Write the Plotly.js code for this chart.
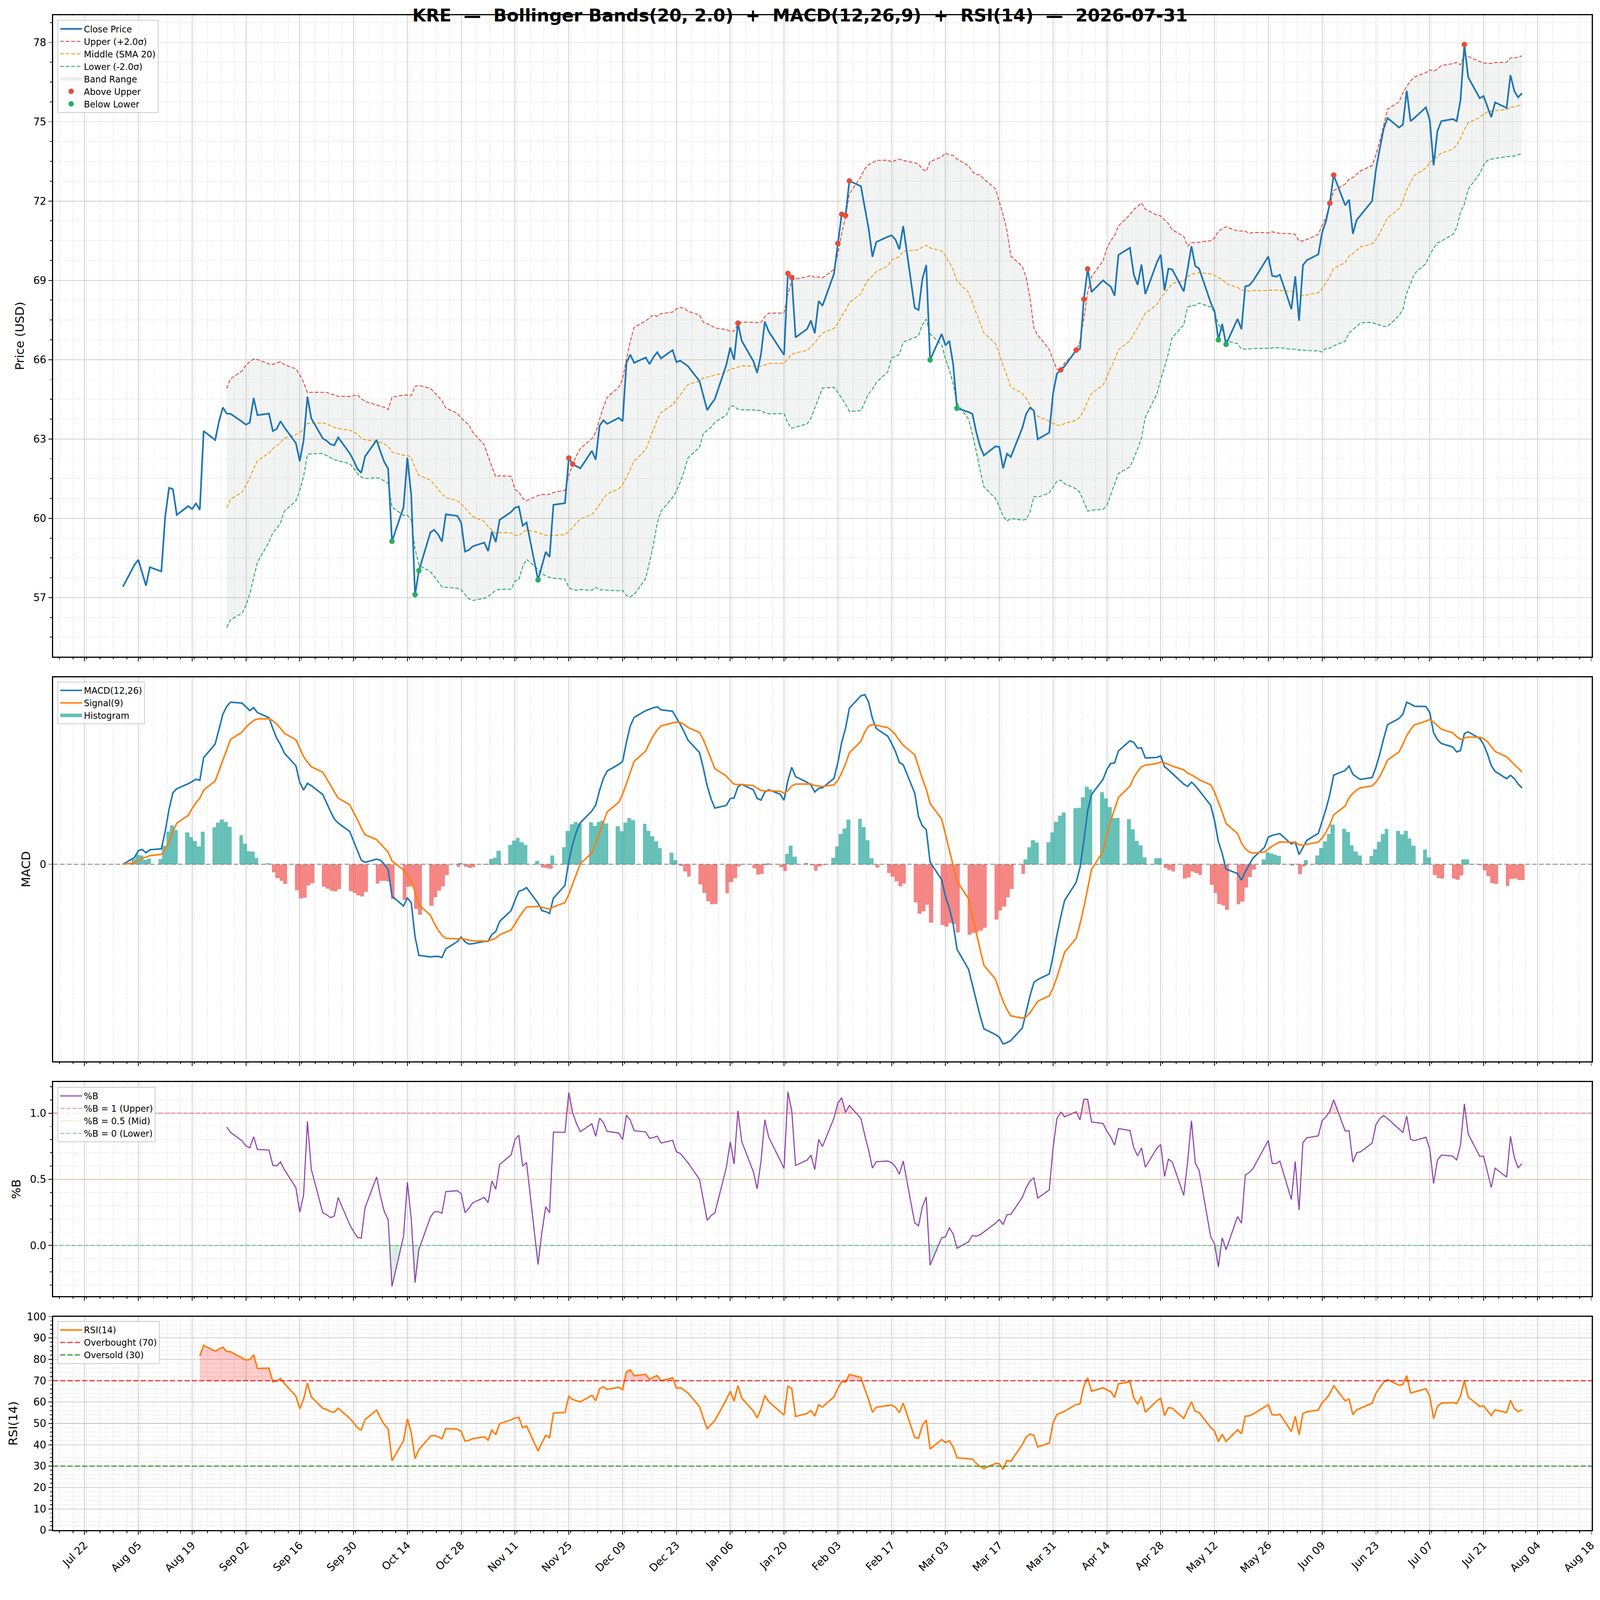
<!DOCTYPE html>
<html>
<head>
<meta charset="utf-8">
<script src="https://cdn.plot.ly/plotly-3.0.1.min.js"></script>
<style>html,body{margin:0;padding:0;background:#fff;overflow:hidden}</style>
</head>
<body>
<div id="wrap" style="position:absolute;left:0;top:0;width:4378px;height:4322px;transform-origin:0 0">
<div id="chart" style="width:4378px;height:4322px"></div>
</div>
<script>
// KRE daily closes, business days from 2025-08-01 to 2026-07-31
const START = '2025-08-01';
const closeAug = [57.41, 58.24, 58.43, 57.94, 57.45, 58.15, 57.99, 60.08, 61.15, 61.10, 60.13, 60.46, 60.35, 60.56, 60.32, 63.30, 62.96, 63.67, 64.19, 63.96, 63.95];
const closeSep = [63.65, 63.54, 63.62, 64.55, 63.90, 63.96, 63.30, 63.38, 63.67, 63.44, 62.84, 62.16, 62.94, 64.60, 63.78, 63.02, 62.93, 62.80, 62.76, 63.06, 62.46, 62.19];
const closeOct = [61.87, 61.72, 62.34, 62.96, 62.52, 62.13, 61.87, 59.13, 60.42, 62.29, 60.89, 57.11, 58.02, 59.47, 59.56, 59.39, 59.12, 60.15, 60.09, 59.84, 58.74, 58.80, 58.94];
const closeNov = [59.08, 58.76, 59.50, 59.10, 59.94, 60.24, 60.40, 60.44, 59.72, 59.84, 57.67, 58.20, 58.73, 58.54, 60.51, 60.57, 62.28, 62.05, 61.97, 61.89];
const closeDec = [62.55, 62.22, 63.50, 63.71, 63.57, 63.80, 63.67, 65.88, 66.19, 65.88, 66.08, 65.83, 66.09, 66.28, 66.05, 66.36, 65.91, 65.96, 65.86, 65.75, 65.19, 64.64, 64.09];
const closeJan = [64.31, 64.51, 65.81, 66.46, 65.99, 67.38, 66.71, 65.95, 65.50, 66.20, 67.44, 67.07, 66.40, 66.18, 69.26, 69.11, 66.84, 67.16, 67.48, 67.00, 68.22, 68.04];
const closeFeb = [69.25, 70.40, 71.50, 71.45, 72.76, 72.56, 71.75, 70.96, 69.89, 70.45, 70.65, 70.70, 70.54, 70.17, 71.05, 67.96, 67.88, 69.06, 69.58, 65.99];
const closeMar = [66.97, 66.54, 66.71, 65.83, 64.16, 64.02, 63.95, 63.27, 62.72, 62.38, 62.72, 62.70, 61.89, 62.44, 62.32, 63.42, 63.95, 64.18, 64.07, 62.99, 63.24, 64.73];
const closeApr = [65.47, 65.61, 65.75, 66.36, 66.40, 68.28, 69.43, 68.56, 69.00, 68.87, 68.76, 68.42, 69.96, 70.23, 69.21, 68.83, 69.60, 68.48, 69.67, 69.97, 68.62, 69.44];
const closeMay = [69.41, 68.58, 69.44, 70.29, 69.54, 69.44, 68.16, 67.83, 66.75, 67.35, 66.58, 67.54, 67.15, 68.77, 68.81, 68.97, 69.67, 69.90, 69.17, 69.14, 69.21];
const closeJun = [67.91, 69.15, 67.47, 69.57, 69.76, 69.98, 70.81, 71.24, 71.92, 72.98, 71.84, 72.05, 70.76, 71.29, 71.46, 72.00, 73.19, 73.98, 74.73, 75.14, 74.78, 74.89];
const closeJul = [76.17, 75.02, 75.14, 75.54, 75.06, 73.35, 74.65, 75.02, 75.10, 75.02, 75.81, 77.92, 76.68, 75.89, 75.97, 75.57, 75.17, 75.73, 75.52, 76.76, 76.16, 75.92, 76.08];

const close = [].concat(closeAug, closeSep, closeOct, closeNov, closeDec, closeJan,
                        closeFeb, closeMar, closeApr, closeMay, closeJun, closeJul);

const BB_N = 20, BB_K = 2.0, RSI_N = 14, FAST = 12, SLOW = 26, SIG = 9;
const bLevels = [1, 0.5, 0];
const rsiLevels = [70, 30, 50];
const TITLE = 'KRE\u00a0 \u2014\u00a0 Bollinger Bands(20, 2.0)\u00a0 +\u00a0 MACD(12,26,9)\u00a0 +\u00a0 RSI(14)\u00a0 \u2014\u00a0 2026-07-31';

const W = 4378, H = 4322;
const DAY = 864e5;
const n = close.length;

// fit the whole figure into what the browser actually shows
const fit = Math.min(window.innerWidth / W, window.innerHeight / H, 4096 / W);
if (fit < 1) document.getElementById('wrap').style.transform = 'scale(' + fit + ')';

// business-day dates
const dates = [], dms = [];
for (let t = Date.parse(START); dates.length < n; t += DAY) {
  const wd = new Date(t).getUTCDay();
  if (wd !== 0 && wd !== 6) { dates.push(new Date(t).toISOString().slice(0, 10)); dms.push(t); }
}
const toStr = ms => new Date(ms).toISOString().replace('T', ' ').replace('Z', '');

// Bollinger
const upper = [], middle = [], lower = [], pctB = [];
for (let i = 0; i < n; i++) {
  if (i < BB_N - 1) { upper.push(null); middle.push(null); lower.push(null); pctB.push(null); continue; }
  const w = close.slice(i - BB_N + 1, i + 1);
  const m = w.reduce((a, b) => a + b, 0) / BB_N;
  const sd = Math.sqrt(w.reduce((a, b) => a + (b - m) * (b - m), 0) / (BB_N - 1));
  upper.push(m + BB_K * sd); middle.push(m); lower.push(m - BB_K * sd);
  pctB.push((close[i] - (m - BB_K * sd)) / (2 * BB_K * sd));
}

// MACD
function ema(arr, span) {
  const a = 2 / (span + 1), out = [];
  let prev = null;
  arr.forEach((v, i) => { prev = i === 0 ? v : a * v + (1 - a) * prev; out.push(prev); });
  return out;
}
const e12 = ema(close, FAST), e26 = ema(close, SLOW);
const macd = e12.map((v, i) => v - e26[i]);
const signal = ema(macd, SIG);
const hist = macd.map((v, i) => v - signal[i]);

// RSI (Wilder style ewm, adjust=False)
const rsi = new Array(n).fill(null);
{
  const a = 1 / RSI_N;
  let ag = 0, al = 0;
  for (let i = 1; i < n; i++) {
    const d = close[i] - close[i - 1];
    const g = Math.max(d, 0), l = Math.max(-d, 0);
    if (i === 1) { ag = g; al = l; } else { ag = a * g + (1 - a) * ag; al = a * l + (1 - a) * al; }
    if (i >= RSI_N) rsi[i] = al === 0 ? 100 : 100 - 100 / (1 + ag / al);
  }
}

// ranges like matplotlib's 5% margins
function padRange(vals) {
  const v = vals.filter(x => x != null);
  const lo = Math.min(...v), hi = Math.max(...v), p = (hi - lo) * 0.05;
  return [lo - p, hi + p];
}
const xr = padRange(dms).map(toStr);
const yPrice = padRange(close.concat(upper, lower));
const yMacd = padRange(macd.concat(signal, hist));
const yB = padRange(pctB);

// fill helper: region between series and a level (above or below)
function levelFill(ys, level, above, color, xa, ya) {
  const fx = [], fy = [];
  let px = null, py = null;
  for (let i = 0; i < n; i++) {
    const y = ys[i];
    if (y == null) continue;
    const x = dms[i];
    if (py != null) {
      const s0 = above ? py > level : py < level, s1 = above ? y > level : y < level;
      if (s0 !== s1) { const t = (level - py) / (y - py); fx.push(px + t * (x - px)); fy.push(level); }
    }
    fx.push(x); fy.push(above ? Math.max(y, level) : Math.min(y, level));
    px = x; py = y;
  }
  const xs = fx.map(toStr);
  return [
    {x: xs, y: xs.map(() => level), xaxis: xa, yaxis: ya, mode: 'lines', line: {width: 0},
     showlegend: false, hoverinfo: 'skip'},
    {x: xs, y: fy, xaxis: xa, yaxis: ya, mode: 'lines', line: {width: 0}, fill: 'tonexty',
     fillcolor: color, showlegend: false, hoverinfo: 'skip'}
  ];
}

const bbIdx = [...Array(n).keys()].filter(i => upper[i] != null);
const bbX = bbIdx.map(i => dates[i]);
const aboveIdx = bbIdx.filter(i => close[i] > upper[i]);
const belowIdx = bbIdx.filter(i => close[i] < lower[i]);

const FONT = 'DejaVu Sans';
const BAND_FILL = 'rgba(149,165,166,0.12)';
const HIST_UP = 'rgba(38,166,154,0.7)', HIST_DN = 'rgba(239,83,80,0.7)';
const traces = [
  // price panel
  {x: bbX, y: bbIdx.map(i => upper[i]), mode: 'lines', line: {width: 0}, showlegend: false, hoverinfo: 'skip'},
  {x: bbX, y: bbIdx.map(i => lower[i]), mode: 'lines', line: {width: 0}, fill: 'tonexty',
   fillcolor: BAND_FILL, showlegend: false, hoverinfo: 'skip'},
  // legend swatch for the band fill
  {x: [dates[0]], y: [null], mode: 'lines', name: 'Band Range', legendrank: 5,
   line: {color: 'rgba(149,165,166,0.18)', width: 10}, hoverinfo: 'skip'},
  {x: bbX, y: bbIdx.map(i => upper[i]), mode: 'lines', name: 'Upper (+2.0\u03c3)', legendrank: 2,
   line: {color: '#e74c3c', width: 2.6, dash: '10px,5px'}},
  {x: bbX, y: bbIdx.map(i => middle[i]), mode: 'lines', name: 'Middle (SMA 20)', legendrank: 3,
   line: {color: '#f39c12', width: 2.6, dash: '10px,5px'}},
  {x: bbX, y: bbIdx.map(i => lower[i]), mode: 'lines', name: 'Lower (-2.0\u03c3)', legendrank: 4,
   line: {color: '#27ae60', width: 2.6, dash: '10px,5px'}},
  {x: dates, y: close, mode: 'lines', name: 'Close Price', legendrank: 1,
   line: {color: '#1f77b4', width: 4.6}},
  {x: aboveIdx.map(i => dates[i]), y: aboveIdx.map(i => close[i]), mode: 'markers', name: 'Above Upper',
   legendrank: 6, marker: {color: '#e74c3c', size: 15}},
  {x: belowIdx.map(i => dates[i]), y: belowIdx.map(i => close[i]), mode: 'markers', name: 'Below Lower',
   legendrank: 7, marker: {color: '#27ae60', size: 15}},

  // MACD panel
  {x: dates, y: hist.map(v => v >= 0 ? v : null), type: 'bar', xaxis: 'x2', yaxis: 'y2', width: DAY,
   marker: {color: HIST_UP, line: {width: 0}}, showlegend: false, legend: 'legend2'},
  {x: dates, y: hist.map(v => v < 0 ? v : null), type: 'bar', xaxis: 'x2', yaxis: 'y2', width: DAY,
   marker: {color: HIST_DN, line: {width: 0}}, showlegend: false, legend: 'legend2'},
  {x: [dates[0]], y: [null], xaxis: 'x2', yaxis: 'y2', mode: 'lines', name: 'Histogram', legend: 'legend2',
   legendrank: 3, line: {color: HIST_UP, width: 10}, hoverinfo: 'skip'},
  {x: xr, y: [0, 0], xaxis: 'x2', yaxis: 'y2', mode: 'lines', showlegend: false, hoverinfo: 'skip',
   line: {color: 'rgba(128,128,128,0.85)', width: 2.6, dash: '13px,6px'}},
  {x: dates, y: macd, xaxis: 'x2', yaxis: 'y2', mode: 'lines', name: 'MACD(12,26)', legend: 'legend2',
   legendrank: 1, line: {color: '#1f77b4', width: 4.2}},
  {x: dates, y: signal, xaxis: 'x2', yaxis: 'y2', mode: 'lines', name: 'Signal(9)', legend: 'legend2',
   legendrank: 2, line: {color: '#ff7f0e', width: 4.2}},
];

// %B panel
traces.push(...levelFill(pctB, 0, false, 'rgba(39,174,96,0.18)', 'x3', 'y3'));
traces.push(...levelFill(pctB, 1, true, 'rgba(231,76,60,0.18)', 'x3', 'y3'));
traces.push(
  {x: dates, y: pctB, xaxis: 'x3', yaxis: 'y3', mode: 'lines', name: '%B', legend: 'legend3', legendrank: 1,
   line: {color: '#8e44ad', width: 3}},
  {x: xr, y: [bLevels[0], bLevels[0]], xaxis: 'x3', yaxis: 'y3', mode: 'lines', name: '%B = 1 (Upper)',
   legend: 'legend3', legendrank: 2, line: {color: 'rgba(231,76,60,0.7)', width: 2.2, dash: '12px,5px'}},
  {x: xr, y: [bLevels[1], bLevels[1]], xaxis: 'x3', yaxis: 'y3', mode: 'lines', name: '%B = 0.5 (Mid)',
   legend: 'legend3', legendrank: 3, line: {color: 'rgba(243,156,18,0.7)', width: 2.2, dash: '2px,3px'}},
  {x: xr, y: [bLevels[2], bLevels[2]], xaxis: 'x3', yaxis: 'y3', mode: 'lines', name: '%B = 0 (Lower)',
   legend: 'legend3', legendrank: 4, line: {color: 'rgba(39,174,96,0.7)', width: 2.2, dash: '12px,5px'}}
);

// RSI panel
traces.push(...levelFill(rsi, rsiLevels[0], true, 'rgba(255,0,0,0.2)', 'x4', 'y4'));
traces.push(...levelFill(rsi, rsiLevels[1], false, 'rgba(0,128,0,0.2)', 'x4', 'y4'));
traces.push(
  {x: xr, y: [rsiLevels[2], rsiLevels[2]], xaxis: 'x4', yaxis: 'y4', mode: 'lines', showlegend: false,
   hoverinfo: 'skip', line: {color: 'rgba(128,128,128,0.6)', width: 2, dash: '2px,3px'}},
  {x: dates, y: rsi, xaxis: 'x4', yaxis: 'y4', mode: 'lines', name: 'RSI(14)', legend: 'legend4', legendrank: 1,
   line: {color: '#ff7f0e', width: 4.2}},
  {x: xr, y: [rsiLevels[0], rsiLevels[0]], xaxis: 'x4', yaxis: 'y4', mode: 'lines', name: 'Overbought (70)',
   legend: 'legend4', legendrank: 2, line: {color: 'rgba(255,0,0,0.75)', width: 3.4, dash: '14px,6px'}},
  {x: xr, y: [rsiLevels[1], rsiLevels[1]], xaxis: 'x4', yaxis: 'y4', mode: 'lines', name: 'Oversold (30)',
   legend: 'legend4', legendrank: 3, line: {color: 'rgba(0,128,0,0.75)', width: 3.4, dash: '14px,6px'}}
);

const GRID = '#cfcfcf';
function xAxis(anchor, labels) {
  return {
    type: 'date', range: xr, anchor: anchor, domain: [0, 1],
    tick0: '2025-07-22', dtick: 14 * DAY, tickformat: '%b %d',
    showticklabels: labels, tickangle: -45, tickfont: {size: 29, color: '#000'},
    ticks: 'outside', ticklen: 10, tickwidth: 2.4, tickcolor: '#000',
    showgrid: true, gridcolor: GRID, gridwidth: 2,
    minor: {dtick: 3.5 * DAY, ticks: 'outside', ticklen: 5, tickwidth: 1.8, tickcolor: '#000',
            showgrid: true, gridcolor: '#e3e3e3', gridwidth: 1.5, griddash: 'dot'},
    showline: true, linecolor: '#000', linewidth: 2.5, mirror: true, zeroline: false
  };
}
function yAxis(domain, range, title, extra) {
  return Object.assign({
    domain: domain, range: range, zeroline: false,
    ticks: 'outside', ticklen: 10, tickwidth: 2.4, tickcolor: '#000', tickfont: {size: 28, color: '#000'},
    showline: true, linecolor: '#000', linewidth: 2.5, mirror: true,
    showgrid: true, gridcolor: GRID, gridwidth: 2,
    title: {text: title, font: {size: 33, color: '#000'}, standoff: 16}
  }, extra);
}
function legendBox(y) {
  return {x: 0.003, y: y, xanchor: 'left', yanchor: 'top', bgcolor: 'rgba(255,255,255,0.85)',
          bordercolor: '#cccccc', borderwidth: 2, font: {size: 24, color: '#000'}, itemwidth: 60,
          tracegroupgap: 0, traceorder: 'normal'};
}

const layout = {
  width: W, height: H,
  margin: {l: 145, r: 22, t: 42, b: 135},
  paper_bgcolor: '#fff', plot_bgcolor: '#fff',
  font: {family: FONT, color: '#000'},
  showlegend: true, bargap: 0,
  title: {text: TITLE, x: 0.5, xanchor: 'center', y: 0.9902, yanchor: 'middle',
          font: {size: 48, weight: 'bold', color: '#000', family: FONT}},
  xaxis: xAxis('y', false), xaxis2: Object.assign(xAxis('y2', false), {matches: 'x'}),
  xaxis3: Object.assign(xAxis('y3', false), {matches: 'x'}),
  xaxis4: Object.assign(xAxis('y4', true), {matches: 'x'}),
  yaxis: yAxis([0.5767, 1], yPrice, 'Price (USD)', {tick0: 0, dtick: 3, tickformat: '.0f',
    minor: {dtick: 0.75, ticks: 'outside', ticklen: 5, tickwidth: 1.8, tickcolor: '#000',
            showgrid: true, gridcolor: '#e3e3e3', gridwidth: 1.5, griddash: 'dot'}}),
  yaxis2: yAxis([0.3095, 0.5631], yMacd, 'MACD', {tickvals: [0], ticktext: ['0'], showgrid: false}),
  yaxis3: yAxis([0.1545, 0.2958], yB, '%B', {tick0: 0, dtick: 0.5, tickformat: '.1f',
    minor: {dtick: 0.1, ticks: 'outside', ticklen: 5, tickwidth: 1.8, tickcolor: '#000',
            showgrid: true, gridcolor: '#e3e3e3', gridwidth: 1.5, griddash: 'dot'}}),
  yaxis4: yAxis([0, 0.1410], [0, 100], 'RSI(14)', {tick0: 0, dtick: 10,
    minor: {dtick: 2, ticks: 'outside', ticklen: 5, tickwidth: 1.8, tickcolor: '#000',
            showgrid: true, gridcolor: '#e3e3e3', gridwidth: 1.5, griddash: 'dot'}}),
  legend: legendBox(0.9969),
  legend2: legendBox(0.5602),
  legend3: legendBox(0.2925),
  legend4: legendBox(0.1380)
};

Plotly.newPlot('chart', traces, layout, {displayModeBar: false, responsive: false});
</script>
</body>
</html>
